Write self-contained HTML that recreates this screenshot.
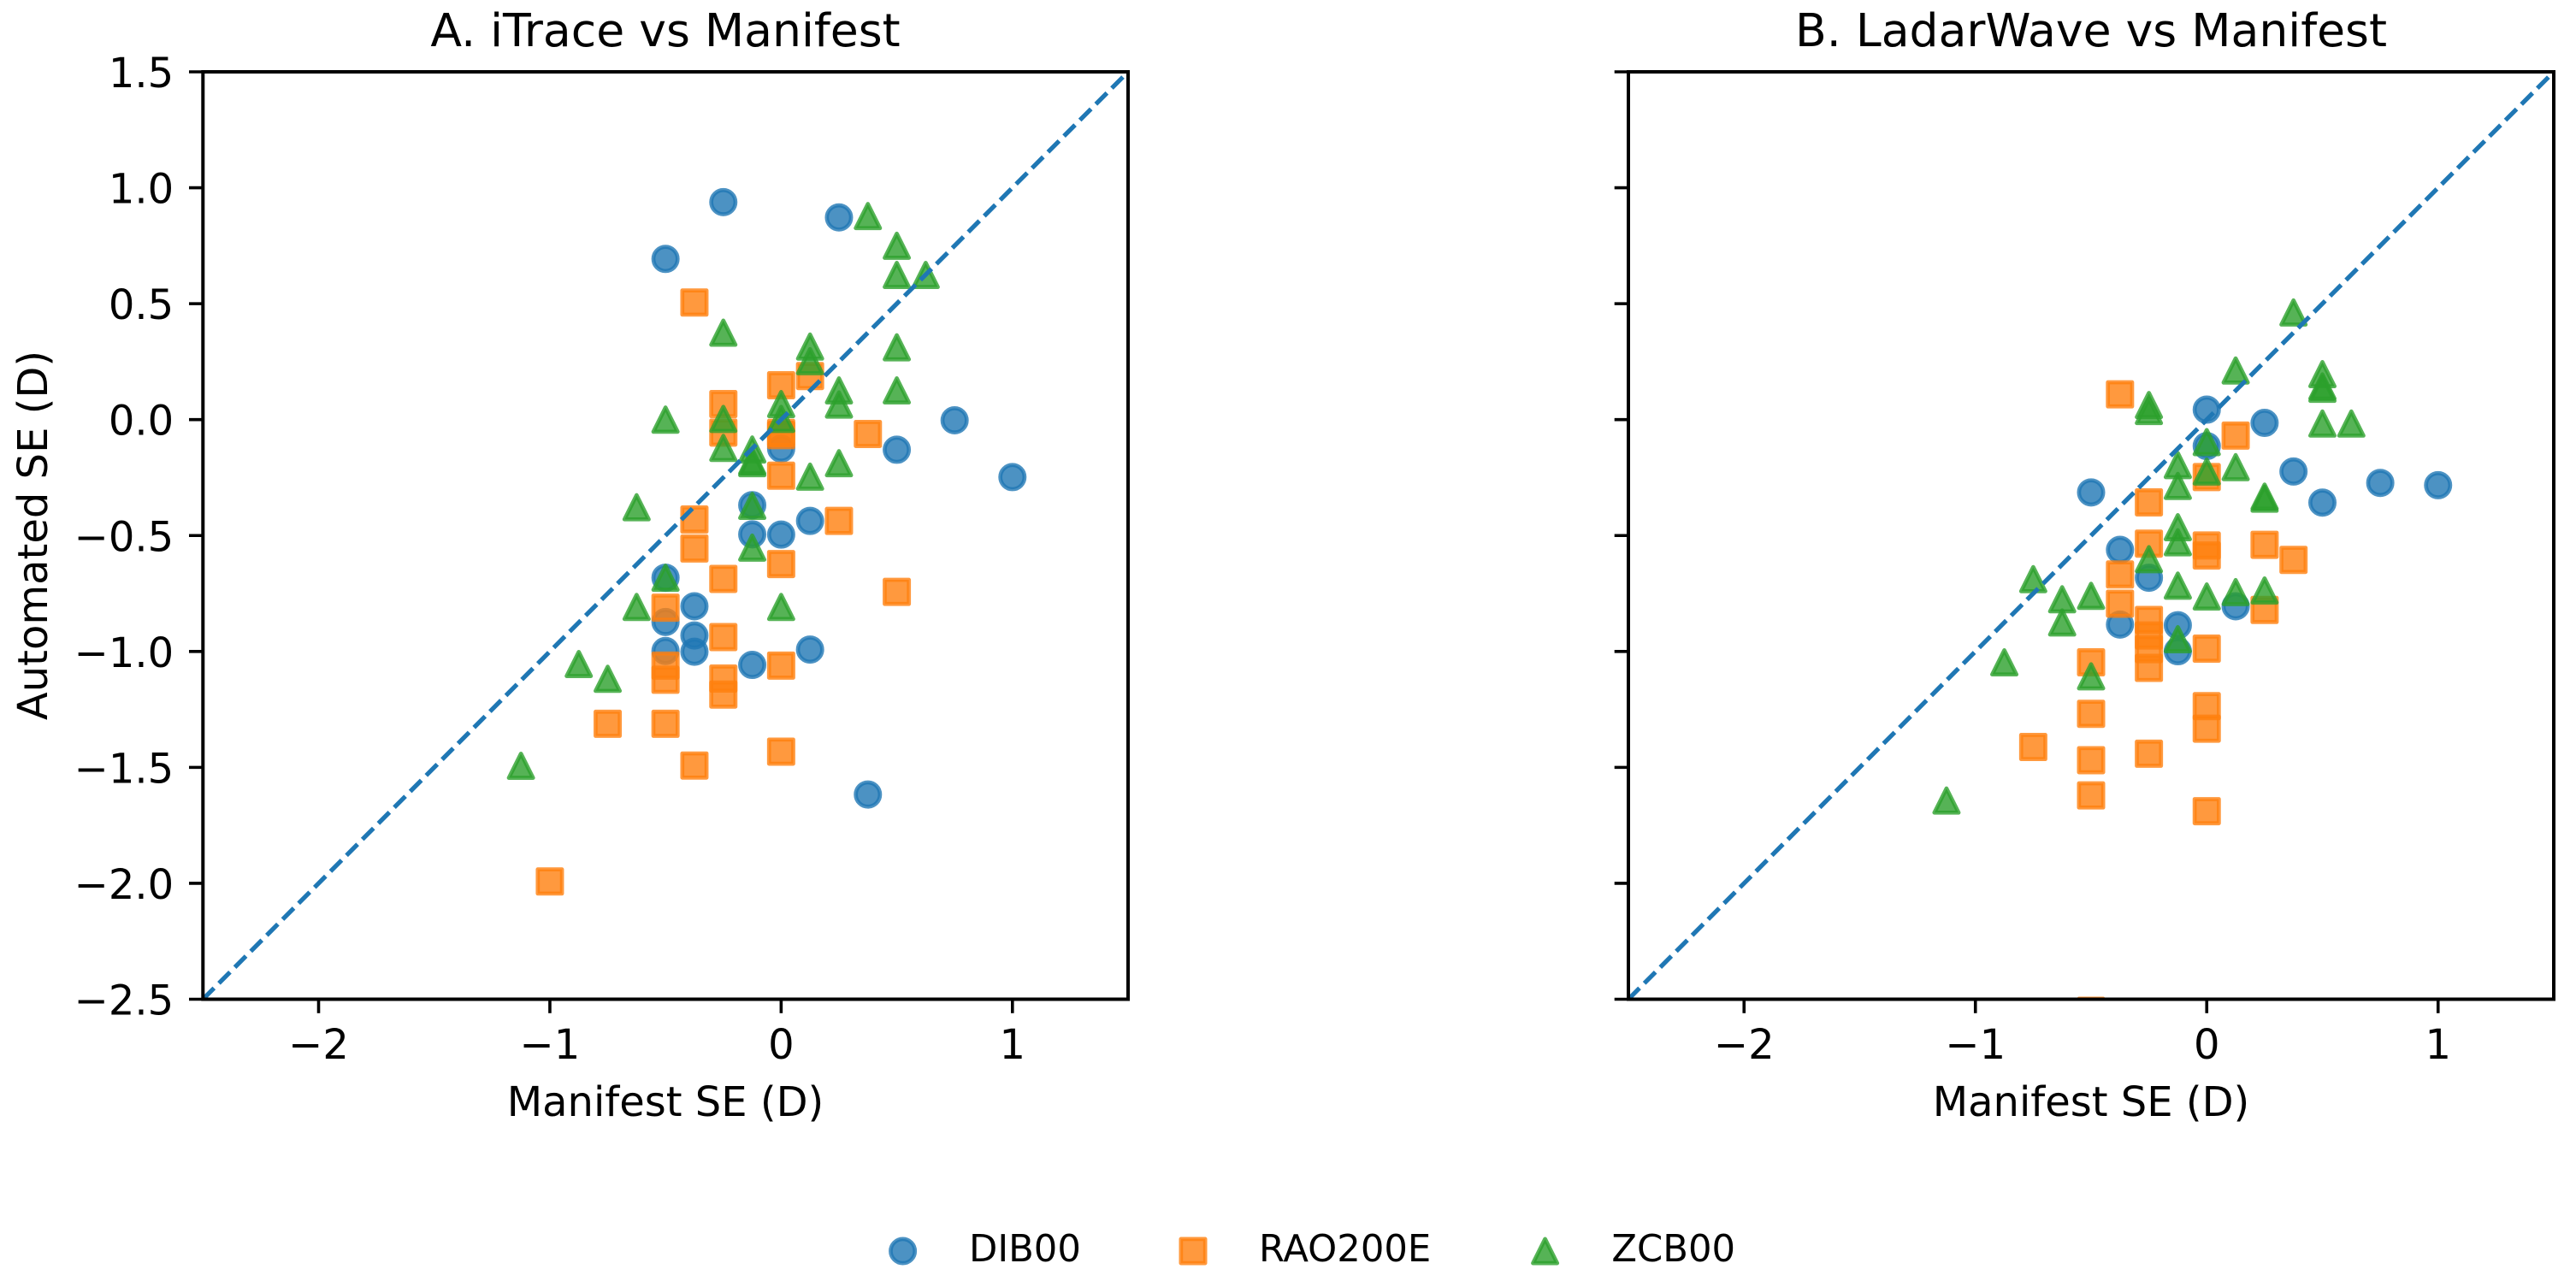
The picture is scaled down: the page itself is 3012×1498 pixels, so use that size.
<!DOCTYPE html>
<html>
<head>
<meta charset="utf-8">
<title>Automated vs Manifest SE</title>
<style>
html,body{margin:0;padding:0;background:#fff;}
svg{display:block;}
text{font-family:"DejaVu Sans","Liberation Sans",sans-serif;fill:#000;}
</style>
</head>
<body>
<svg id="figure" xmlns="http://www.w3.org/2000/svg" width="3012" height="1498" viewBox="0 0 3012 1498">
  <rect x="0" y="0" width="3012" height="1498" fill="#ffffff"/>
  <defs>
    <clipPath id="clip-a"><rect x="237.3" y="84" width="1081.7" height="1084.5"/></clipPath>
    <clipPath id="clip-b"><rect x="1904" y="84" width="1082" height="1084.5"/></clipPath>
  </defs>
  <g id="panel-a"></g>
  <g id="panel-b"></g>

  <text x="778" y="54" font-size="53.6" text-anchor="middle">A. iTrace vs Manifest</text>
  <text x="2445" y="54" font-size="53.6" text-anchor="middle">B. LadarWave vs Manifest</text>
  <text x="778" y="1305" font-size="48" text-anchor="middle">Manifest SE (D)</text>
  <text x="2445" y="1305" font-size="48" text-anchor="middle">Manifest SE (D)</text>
  <text x="0" y="0" font-size="48" text-anchor="middle" transform="translate(55,626) rotate(-90)">Automated SE (D)</text>

  <g>
    <g>
      <circle cx="1055.6" cy="1463" r="14.15" fill="#1f77b4" fill-opacity="0.8" stroke="#1f77b4" stroke-opacity="0.8" stroke-width="4.7"/>
      <text x="1133" y="1475" font-size="43.3">DIB00</text>
    </g>
    <g>
      <rect x="1380.85" y="1448.85" width="28.3" height="28.3" fill="#ff7f0e" fill-opacity="0.8" stroke="#ff7f0e" stroke-opacity="0.8" stroke-width="4.7" stroke-linejoin="round"/>
      <text x="1472" y="1475" font-size="43.3">RAO200E</text>
    </g>
    <g>
      <polygon points="1806.6,1448.85 1792.45,1477.15 1820.75,1477.15" fill="#2ca02c" fill-opacity="0.8" stroke="#2ca02c" stroke-opacity="0.8" stroke-width="4.7" stroke-linejoin="round"/>
      <text x="1884.4" y="1475" font-size="43.3">ZCB00</text>
    </g>
  </g>
</svg>
<script>
// Tick values and labels
const xTickValues = [-2, -1, 0, 1];
const xTickLabels = ["\u22122", "\u22121", "0", "1"];
const yTickValues = [1.5, 1, 0.5, 0, -0.5, -1, -1.5, -2, -2.5];
const yTickLabels = ["1.5", "1.0", "0.5", "0.0", "\u22120.5", "\u22121.0", "\u22121.5", "\u22122.0", "\u22122.5"];
const axisLimits = [-2.5, 1.5];

// Panel A: iTrace vs Manifest
const itraceDibManifest = [-0.25, 0.25, -0.5, 0.75, 0.5, 1, 0, -0.125, -0.125, 0, 0.125, -0.5, -0.375, -0.5, -0.375, -0.5, -0.375, -0.125, 0.125, 0.375];
const itraceDibAutomated = [0.938, 0.872, 0.693, -0.003, -0.13, -0.248, -0.125, -0.369, -0.495, -0.496, -0.437, -0.682, -0.805, -0.873, -0.931, -0.998, -1.001, -1.058, -0.992, -1.617];
const itraceRaoManifest = [-0.375, 0.125, 0, -0.25, -0.25, 0, 0, 0.375, 0, 0.25, -0.375, -0.375, 0, -0.25, 0.5, -0.5, -0.25, -0.5, -0.5, -0.25, -0.25, 0, -0.75, -0.5, -0.375, 0, -1];
const itraceRaoAutomated = [0.505, 0.188, 0.148, 0.067, -0.056, -0.057, -0.067, -0.062, -0.242, -0.437, -0.431, -0.556, -0.623, -0.687, -0.743, -0.811, -0.938, -1.061, -1.122, -1.117, -1.186, -1.061, -1.312, -1.312, -1.492, -1.432, -1.992];
const itraceZcbManifest = [0.375, 0.5, 0.5, 0.625, -0.25, 0.125, 0.125, 0.5, 0.25, 0.25, 0.5, 0, 0, -0.5, -0.25, -0.25, -0.125, -0.125, -0.125, 0.25, 0.125, -0.625, -0.125, -0.125, -0.5, -0.625, 0, -0.875, -0.75, -1.125];
const itraceZcbAutomated = [0.878, 0.75, 0.624, 0.624, 0.375, 0.315, 0.252, 0.312, 0.126, 0.065, 0.126, 0.067, 0.003, 0, 0.003, -0.122, -0.129, -0.18, -0.188, -0.188, -0.246, -0.378, -0.372, -0.552, -0.682, -0.808, -0.808, -1.054, -1.118, -1.493];

// Panel B: LadarWave vs Manifest
const ladarDibManifest = [0, 0.25, 0, 0.375, 0.75, 1, -0.5, 0.5, -0.375, -0.25, 0.125, -0.375, -0.125, -0.125];
const ladarDibAutomated = [0.043, -0.014, -0.114, -0.224, -0.273, -0.283, -0.314, -0.358, -0.562, -0.682, -0.805, -0.884, -0.887, -0.999];
const ladarRaoManifest = [-0.375, 0.125, 0, -0.25, -0.25, 0, 0, 0.25, 0.375, -0.375, -0.375, 0.25, -0.25, -0.25, -0.25, -0.25, 0, -0.5, -0.5, -0.5, -0.5, -0.75, -0.25, 0, 0, 0, -0.5];
const ladarRaoAutomated = [0.109, -0.069, -0.248, -0.357, -0.535, -0.543, -0.586, -0.54, -0.605, -0.668, -0.794, -0.821, -0.864, -0.931, -0.99, -1.071, -0.988, -1.047, -1.269, -1.469, -1.621, -1.412, -1.441, -1.236, -1.333, -1.689, -2.55];
const ladarZcbManifest = [0.375, 0.125, 0.5, 0.5, 0.5, -0.25, -0.25, 0.5, 0.625, 0, -0.125, 0, 0.125, -0.125, 0.25, 0.25, -0.125, -0.125, -0.25, -0.125, -0.75, -0.625, -0.5, 0, 0.125, 0.25, -0.625, -0.125, -0.875, -0.5, -1.125];
const ladarZcbAutomated = [0.462, 0.212, 0.196, 0.143, 0.133, 0.063, 0.037, -0.017, -0.017, -0.097, -0.196, -0.224, -0.205, -0.286, -0.332, -0.341, -0.464, -0.529, -0.602, -0.716, -0.688, -0.775, -0.76, -0.763, -0.744, -0.737, -0.875, -0.947, -1.047, -1.107, -1.643];

const NS = 'http://www.w3.org/2000/svg';
const MARKER_SIZE = 28.3;
const EDGE = 4.7;

function svgEl(tag, attrs, parent) {
  const el = document.createElementNS(NS, tag);
  for (const k in attrs) el.setAttribute(k, attrs[k]);
  parent.appendChild(el);
  return el;
}

function makeAxes(left, right, top, bottom) {
  const span = axisLimits[1] - axisLimits[0];
  return {
    left: left, right: right, top: top, bottom: bottom,
    x: function (v) { return left + (v - axisLimits[0]) / span * (right - left); },
    y: function (v) { return bottom - (v - axisLimits[0]) / span * (bottom - top); }
  };
}

function styleMarker(el, color) {
  el.setAttribute('fill', color);
  el.setAttribute('fill-opacity', '0.8');
  el.setAttribute('stroke', color);
  el.setAttribute('stroke-opacity', '0.8');
  el.setAttribute('stroke-width', EDGE);
  el.setAttribute('stroke-linejoin', 'round');
}

function drawCircles(g, ax, xs, ys, color, name) {
  xs.forEach(function (v, i) {
    const el = svgEl('circle', { cx: ax.x(v), cy: ax.y(ys[i]), r: MARKER_SIZE / 2 }, g);
    styleMarker(el, color);
    
    
  });
}

function drawSquares(g, ax, xs, ys, color, name) {
  xs.forEach(function (v, i) {
    const el = svgEl('rect', { x: ax.x(v) - MARKER_SIZE / 2, y: ax.y(ys[i]) - MARKER_SIZE / 2, width: MARKER_SIZE, height: MARKER_SIZE }, g);
    styleMarker(el, color);
    
    
  });
}

function drawTriangles(g, ax, xs, ys, color, name) {
  xs.forEach(function (v, i) {
    const cx = ax.x(v), cy = ax.y(ys[i]), h = MARKER_SIZE / 2;
    const pts = cx + ',' + (cy - h) + ' ' + (cx - h) + ',' + (cy + h) + ' ' + (cx + h) + ',' + (cy + h);
    const el = svgEl('polygon', { points: pts }, g);
    styleMarker(el, color);
    
    
  });
}

function drawPanel(panelId, clipId, ax, showYLabels, series) {
  const panel = document.getElementById(panelId);
  const marks = svgEl('g', { 'clip-path': 'url(#' + clipId + ')' }, panel);
  
  

  drawCircles(marks, ax, series.dibX, series.dibY, '#1f77b4', 'point-dib00');
  drawSquares(marks, ax, series.raoX, series.raoY, '#ff7f0e', 'point-rao200e');
  drawTriangles(marks, ax, series.zcbX, series.zcbY, '#2ca02c', 'point-zcb00');

  const identity = svgEl('line', {
    x1: ax.x(axisLimits[0]), y1: ax.y(axisLimits[0]),
    x2: ax.x(axisLimits[1]), y2: ax.y(axisLimits[1]),
    stroke: '#1f77b4', 'stroke-width': 5.2, 'stroke-dasharray': '18.4 8', fill: 'none'
  }, marks);
  
  

  xTickValues.forEach(function (v, i) {
    const px = ax.x(v);
    const tick = svgEl('line', { x1: px, x2: px, y1: ax.bottom, y2: ax.bottom + 16.3, stroke: '#000', 'stroke-width': 3.6 }, panel);
    
    
    const label = svgEl('text', { x: px, y: 1238, 'font-size': 48, 'text-anchor': 'middle' }, panel);
    label.textContent = xTickLabels[i];
    
    
  });

  yTickValues.forEach(function (v, i) {
    const py = ax.y(v);
    const tick = svgEl('line', { x1: ax.left - 16.3, x2: ax.left, y1: py, y2: py, stroke: '#000', 'stroke-width': 3.6 }, panel);
    
    
    if (showYLabels) {
      const label = svgEl('text', { x: 203.2, y: py + 18, 'font-size': 48, 'text-anchor': 'end' }, panel);
      label.textContent = yTickLabels[i];
      
      
    }
  });

  const frame = svgEl('rect', {
    x: ax.left, y: ax.top, width: ax.right - ax.left, height: ax.bottom - ax.top,
    fill: 'none', stroke: '#000', 'stroke-width': 4
  }, panel);
  
  
}

drawPanel('panel-a', 'clip-a', makeAxes(237.3, 1319, 84, 1168.5), true, {
  dibX: itraceDibManifest, dibY: itraceDibAutomated,
  raoX: itraceRaoManifest, raoY: itraceRaoAutomated,
  zcbX: itraceZcbManifest, zcbY: itraceZcbAutomated
});
drawPanel('panel-b', 'clip-b', makeAxes(1904, 2986, 84, 1168.5), false, {
  dibX: ladarDibManifest, dibY: ladarDibAutomated,
  raoX: ladarRaoManifest, raoY: ladarRaoAutomated,
  zcbX: ladarZcbManifest, zcbY: ladarZcbAutomated
});
</script>
</body>
</html>
